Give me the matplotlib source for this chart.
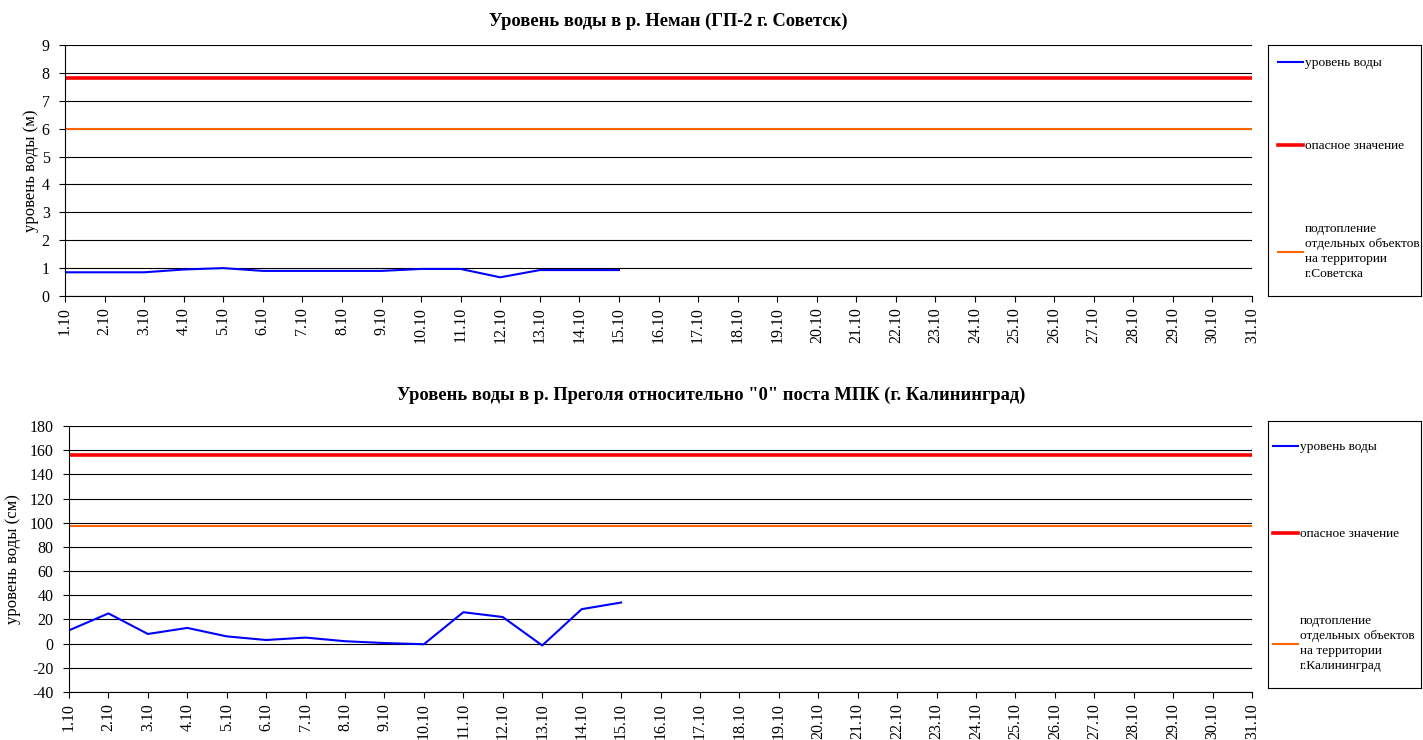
import numpy as np
import matplotlib
matplotlib.use("Agg")
import matplotlib.pyplot as plt

plt.rcParams['font.family'] = ['Liberation Serif', 'DejaVu Serif']
plt.rcParams['axes.unicode_minus'] = False

# dates 1.10 .. 31.10
days = [f"{d}.10" for d in range(1, 32)]

# Neman (GP-2 Sovetsk), metres, observed 1.10 - 15.10
neman_level = [0.85, 0.85, 0.85, 0.95, 1.0, 0.9, 0.9, 0.9, 0.9, 0.97, 0.97, 0.67, 0.93, 0.93, 0.93]
neman_danger = 7.8
neman_flood = 6.0

# Pregolya (Kaliningrad), cm, observed 1.10 - 15.10
pregolya_level = [11, 25, 8, 13, 6, 3, 5, 2, 0.5, -0.5, 26, 22, -1.5, 28.5, 34]
pregolya_danger = 156
pregolya_flood = 97

titles = ["Уровень воды в р. Неман (ГП-2 г. Советск)",
          "Уровень воды в р. Преголя относительно \"0\" поста МПК (г. Калининград)"]
ylabels = ["уровень воды (м)", "уровень воды (см)"]
legend_labels = [
    ["уровень воды", "опасное значение", "подтопление\nотдельных объектов\nна территории\nг.Советска"],
    ["уровень воды", "опасное значение", "подтопление\nотдельных объектов\nна территории\nг.Калининград"],
]

W, H = 1423, 740
fig = plt.figure(figsize=(W / 100, H / 100), dpi=100)


def box(x0, y0, x1, y1):
    return [x0 / W, 1 - y1 / H, (x1 - x0) / W, (y1 - y0) / H]


def draw(ax, lax, level, danger, flood, ylim, step, title, tx, tpad,
         ylabel, lpad, labels, spacing, anchor):
    x = np.arange(len(days))
    l1, = ax.plot(x[:len(level)], level, color='#0000FF', lw=1.5)
    l2, = ax.plot(x, [danger] * len(days), color='#FF0000', lw=2.6)
    l3, = ax.plot(x, [flood] * len(days), color='#FF6600', lw=1.5)
    ax.set_xlim(0, len(days) - 1)
    ax.set_ylim(*ylim)
    ax.set_yticks(np.arange(ylim[0], ylim[1] + step, step))
    ax.set_xticks(x)
    ax.set_xticklabels(days, rotation=90)
    ax.yaxis.grid(True, color='black', lw=0.8)
    ax.set_axisbelow(True)
    ax.spines['top'].set_visible(False)
    ax.spines['right'].set_visible(False)
    ax.tick_params(axis='both', direction='out', length=4, width=0.8, labelsize=11.5)
    ax.tick_params(axis='y', pad=7)
    ax.tick_params(axis='x', pad=4)
    ax.set_ylabel(ylabel, fontsize=12, labelpad=lpad)
    ax.set_title(title, fontsize=13.3, fontweight='bold', x=tx, pad=tpad)

    lax.set_xticks([])
    lax.set_yticks([])
    leg = lax.legend([l1, l2, l3], labels, loc='upper left', bbox_to_anchor=anchor,
                     frameon=False, fontsize=9.6, labelspacing=spacing, handlelength=1.9,
                     handletextpad=0.1, borderaxespad=0, borderpad=0)
    for t in leg.get_texts():
        t.set_linespacing(1.35)


ax1 = fig.add_axes(box(65, 45, 1252, 296))
lax1 = fig.add_axes(box(1268, 45, 1421, 296))
draw(ax1, lax1, neman_level, neman_danger, neman_flood, (0, 9), 1,
     titles[0], 0.508, 14, ylabels[0], 2, legend_labels[0], 5.3, (0.065, 0.952))

ax2 = fig.add_axes(box(69, 426, 1252, 692))
lax2 = fig.add_axes(box(1268, 421, 1421, 688))
draw(ax2, lax2, pregolya_level, pregolya_danger, pregolya_flood, (-40, 180), 20,
     titles[1], 0.543, 19, ylabels[1], 6, legend_labels[1], 5.6, (0.033, 0.925))

fig.savefig("out.png", dpi=100)
